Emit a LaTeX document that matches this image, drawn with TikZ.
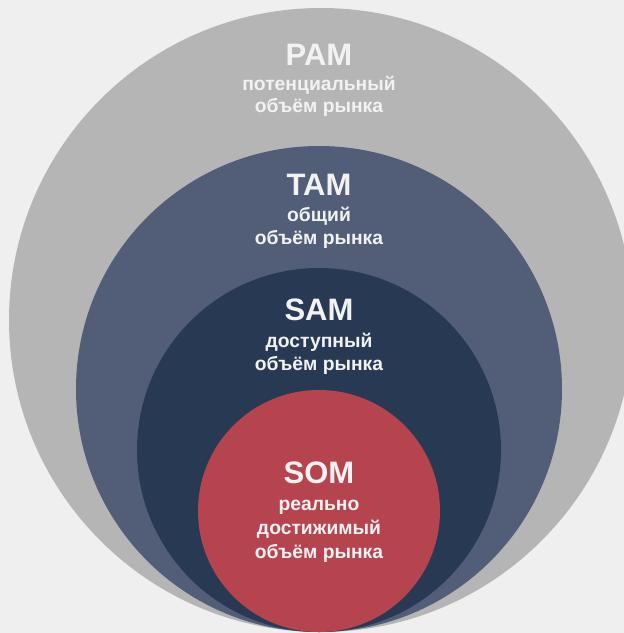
\documentclass[tikz,border=0pt]{standalone}
\usepackage{fontspec}
\setmainfont{Liberation Sans}
\definecolor{bgc}{HTML}{EFEFEF}
\definecolor{pamc}{HTML}{B6B5B6}
\definecolor{tamc}{HTML}{525D77}
\definecolor{samc}{HTML}{283954}
\definecolor{somc}{HTML}{B6444F}
\definecolor{txtc}{HTML}{F2F2F2}
\tikzset{
  ring/.style={circle, inner sep=0pt, draw=none},
  ttl/.style={anchor=base, text=txtc, font=\fontsize{31}{32}\selectfont\bfseries, inner sep=0pt},
  sub/.style={anchor=base, text=txtc, font=\fontsize{19.3}{21}\selectfont\bfseries, inner sep=0pt},
}
\begin{document}
\begin{tikzpicture}[x=1pt,y=-1pt]
\fill[bgc] (0,0) rectangle (624,633);
\useasboundingbox (0,0) rectangle (624,633);
\begin{scope}
\clip (0,0) rectangle (624,633);
\node[ring, fill=pamc, minimum size=624pt] (pam) at (321,320) {};
\node[ring, fill=tamc, minimum size=486pt] (tam) at (319,389) {};
\node[ring, fill=samc, minimum size=364pt] (sam) at (319,450) {};
\node[ring, fill=somc, minimum size=242pt] (som) at (319,511) {};
\end{scope}
\node[ttl] (pamt) at (319,65) {PAM};
\node[sub] (pam1) at (319,90) {потенциальный};
\node[sub] (pam2) at (319,112) {объём рынка};
\node[ttl] (tamt) at (319,195) {TAM};
\node[sub] (tam1) at (319,221) {общий};
\node[sub] (tam2) at (319,244) {объём рынка};
\node[ttl] (samt) at (319,320) {SAM};
\node[sub] (sam1) at (319,347) {доступный};
\node[sub] (sam2) at (319,370) {объём рынка};
\node[ttl] (somt) at (319,483) {SOM};
\node[sub] (som1) at (319,510) {реально};
\node[sub] (som2) at (319,534) {достижимый};
\node[sub] (som3) at (319,558) {объём рынка};
\end{tikzpicture}
\end{document}
